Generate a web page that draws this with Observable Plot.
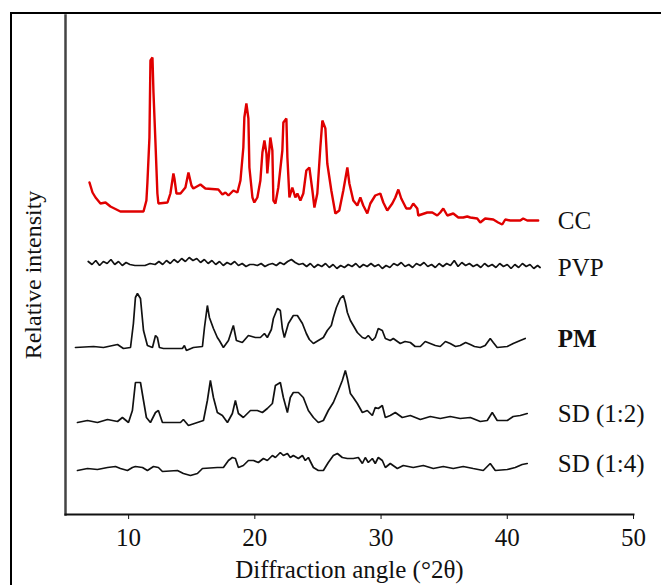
<!DOCTYPE html>
<html>
<head>
<meta charset="utf-8">
<script src="https://cdn.jsdelivr.net/npm/d3@7"></script>
<script src="https://cdn.jsdelivr.net/npm/@observablehq/plot@0.6"></script>
<style>
  html, body { margin: 0; padding: 0; background: #fff; overflow: hidden; }
  #wrap { position: relative; width: 661px; height: 585px; overflow: hidden; }
  #border { position: absolute; left: 10px; top: 12px; width: 800px; height: 800px; border: 2px solid #000; box-sizing: border-box; pointer-events: none; }
  #chart { position: absolute; left: 0; top: 0; }
</style>
</head>
<body>
<div id="wrap"><div id="border"></div><div id="chart"></div></div>
<script>
// Series names and colours
const seriesNames = ["CC", "PVP", "PM", "SD (1:2)", "SD (1:4)"];
const seriesColors = ["#e00000", "#111", "#111", "#111", "#111"];
const boldNames = ["PM"];
const xTicks = [10, 20, 30, 40, 50];

// [diffraction angle (°2θ), relative intensity (stacked, arbitrary units)]
const cc = [[6.90,330],[7.14,320],[7.38,315],[7.77,309],[8.17,310],[8.56,306],[9.35,301],[11.18,301],[11.41,312],[11.49,330],[11.65,375],[11.73,452],[11.89,455],[11.97,420],[12.13,369],[12.28,319],[12.36,309],[13.08,310],[13.31,319],[13.55,339],[13.63,334],[13.79,319],[14.11,319],[14.50,325],[14.74,340],[14.98,327],[15.13,324],[15.69,328],[16.08,324],[17.11,323],[17.43,318],[17.67,320],[17.91,317],[18.30,322],[18.62,320],[18.86,332],[19.09,365],[19.17,395],[19.33,409],[19.49,394],[19.57,345],[19.81,315],[19.96,310],[20.20,315],[20.44,332],[20.60,360],[20.76,372],[20.92,359],[20.99,339],[21.23,375],[21.39,362],[21.47,312],[21.63,309],[21.86,325],[22.18,362],[22.26,390],[22.50,394],[22.58,355],[22.74,315],[22.97,325],[23.21,315],[23.37,319],[23.61,312],[23.84,319],[24.08,342],[24.32,345],[24.56,322],[24.72,305],[24.95,319],[25.19,365],[25.35,392],[25.59,384],[25.74,349],[26.06,322],[26.38,299],[26.69,302],[27.01,322],[27.33,345],[27.49,329],[27.80,312],[28.12,307],[28.36,315],[28.59,307],[28.91,299],[29.15,309],[29.54,317],[29.94,319],[30.18,310],[30.49,302],[30.89,309],[31.13,315],[31.37,323],[31.60,314],[32.00,304],[32.32,304],[32.55,309],[32.87,304],[32.95,297],[33.66,300],[34.06,300],[34.45,297],[34.69,300],[34.93,304],[35.25,297],[35.72,299],[36.12,295],[36.51,295],[36.83,296],[37.07,295],[37.62,294],[37.86,290],[38.25,294],[38.89,293],[39.28,290],[39.60,288],[39.84,293],[40.23,292],[41.03,292],[41.26,294],[41.58,292],[42.45,292]];

const pvp = [[6.8,251],[7.1,248],[7.4,252],[7.7,247],[8.0,251],[8.3,249],[8.6,253],[8.9,248],[9.2,251],[9.5,247],[9.8,250],[10.1,248],[10.5,247],[10.9,247],[11.3,247],[11.7,249],[12.1,248],[12.4,251],[12.7,248],[13.0,252],[13.3,249],[13.6,253],[13.9,250],[14.2,254],[14.5,251],[14.8,255],[15.1,252],[15.4,254],[15.7,250],[16.0,253],[16.3,249],[16.6,252],[16.9,248],[17.2,251],[17.5,247],[17.8,250],[18.1,248],[18.4,251],[18.7,247],[19.0,249],[19.3,246],[19.6,248],[19.9,248],[20.2,247],[20.5,249],[20.8,246],[21.1,248],[21.4,249],[21.7,247],[22.0,250],[22.3,248],[22.6,251],[22.9,253],[23.2,250],[23.5,248],[23.8,249],[24.1,246],[24.4,249],[24.7,245],[25.0,248],[25.3,246],[25.6,249],[25.9,245],[26.2,248],[26.5,244],[26.8,247],[27.1,245],[27.4,248],[27.7,246],[28.0,249],[28.3,245],[28.6,248],[28.9,246],[29.2,249],[29.5,246],[29.8,248],[30.1,244],[30.4,247],[30.7,245],[31.0,249],[31.3,247],[31.6,250],[31.9,246],[32.2,248],[32.5,245],[32.8,249],[33.1,247],[33.4,250],[33.7,246],[34.0,248],[34.3,245],[34.6,249],[34.9,246],[35.2,249],[35.5,247],[35.8,252],[36.1,246],[36.4,250],[36.7,247],[37.0,249],[37.3,246],[37.6,248],[37.9,245],[38.2,249],[38.5,246],[38.8,248],[39.1,245],[39.4,249],[39.7,246],[40.0,248],[40.3,244],[40.6,248],[40.9,245],[41.2,249],[41.5,246],[41.8,248],[42.1,244],[42.4,247],[42.6,245]];

const pm = [[5.79,165],[7.22,166],[8.01,165],[9.12,168],[9.59,164],[10.15,165],[10.38,189],[10.54,215],[10.70,219],[10.94,214],[11.18,182],[11.49,167],[11.89,165],[12.13,177],[12.28,175],[12.44,165],[12.76,164],[14.26,164],[14.42,167],[14.58,162],[15.13,165],[15.85,166],[16.01,185],[16.24,207],[16.40,195],[16.72,184],[17.03,175],[17.19,172],[17.51,165],[17.91,172],[18.22,184],[18.30,187],[18.54,172],[19.01,170],[19.49,177],[20.04,175],[20.44,175],[20.76,179],[20.99,175],[21.31,183],[21.47,194],[21.79,204],[22.02,202],[22.18,184],[22.34,175],[22.66,189],[23.05,197],[23.37,197],[23.77,189],[24.08,179],[24.32,173],[24.64,169],[25.03,172],[25.43,175],[25.74,182],[26.06,187],[26.22,195],[26.46,205],[26.77,214],[27.01,217],[27.17,210],[27.33,200],[27.57,192],[27.80,187],[28.12,180],[28.52,175],[28.75,174],[28.99,177],[29.31,172],[29.54,175],[29.78,184],[30.10,182],[30.34,174],[30.73,172],[30.97,174],[31.52,169],[31.90,171],[32.32,170],[32.70,166],[33.11,166],[33.50,171],[33.90,169],[34.30,167],[34.69,166],[35.10,171],[35.48,169],[35.90,166],[36.27,167],[36.70,170],[37.07,168],[37.40,166],[37.86,165],[38.25,167],[38.65,174],[38.89,170],[39.20,165],[40.00,166],[40.47,169],[41.03,172],[41.42,174]];

const sd12 = [[5.95,90],[6.74,92],[7.53,90],[8.33,93],[9.12,91],[9.51,95],[9.99,90],[10.30,102],[10.54,130],[10.94,130],[11.18,112],[11.41,95],[11.73,90],[12.13,100],[12.36,102],[12.68,90],[14.11,90],[14.34,93],[14.74,87],[15.45,90],[15.93,92],[16.24,112],[16.48,132],[16.72,115],[17.03,100],[17.43,97],[17.83,90],[18.22,99],[18.46,112],[18.70,99],[19.09,95],[19.65,102],[20.20,102],[20.60,100],[20.99,104],[21.39,109],[21.63,127],[22.02,130],[22.26,115],[22.58,100],[22.81,115],[23.05,120],[23.45,120],[23.84,115],[24.24,102],[24.64,95],[25.03,90],[25.43,92],[25.82,102],[26.22,110],[26.62,122],[26.93,132],[27.17,142],[27.33,134],[27.57,119],[27.80,115],[28.12,109],[28.52,100],[28.91,102],[29.31,97],[29.54,105],[29.78,104],[30.10,107],[30.34,95],[30.73,97],[31.13,100],[31.68,95],[32.32,97],[33.11,93],[33.90,96],[34.69,94],[35.48,96],[36.27,94],[37.07,95],[37.86,91],[38.41,92],[38.81,100],[39.20,92],[40.00,92],[40.47,96],[41.03,97],[41.58,99]];

const sd14 = [[5.95,42],[6.74,44],[7.53,43],[8.33,45],[8.96,46],[9.35,44],[9.91,42],[10.30,45],[10.54,46],[11.10,45],[11.49,42],[11.97,46],[12.36,45],[12.68,41],[13.87,42],[14.34,39],[14.90,37],[15.45,39],[15.85,44],[17.03,45],[17.51,45],[17.91,52],[18.22,55],[18.46,54],[18.70,45],[19.09,47],[19.49,52],[19.89,52],[20.28,50],[20.68,54],[20.99,52],[21.39,57],[21.63,55],[22.02,60],[22.26,57],[22.58,59],[22.81,55],[23.05,57],[23.45,54],[23.77,57],[24.00,52],[24.24,55],[24.64,45],[25.03,42],[25.43,42],[25.82,50],[26.22,57],[26.54,59],[26.93,55],[27.33,54],[27.80,54],[28.20,55],[28.52,49],[28.75,55],[28.99,50],[29.31,54],[29.54,49],[29.78,55],[30.10,52],[30.34,45],[30.73,49],[31.29,44],[31.76,47],[32.55,45],[33.35,47],[34.14,44],[34.93,46],[35.72,44],[36.51,46],[37.30,44],[38.10,42],[38.65,49],[39.05,42],[40.00,43],[40.63,45],[41.18,48],[41.58,49]];

const seriesData = [cc, pvp, pm, sd12, sd14];

const toRows = (s, i) => s.map(([angle, intensity]) => ({series: seriesNames[i], angle, intensity}));

const lineMarks = seriesData.map((s, i) =>
  Plot.line(toRows(s, i), {
    x: "angle", y: "intensity",
    stroke: seriesColors[i],
    strokeWidth: i === 0 ? 2.4 : 1.7,
    strokeLinejoin: "miter"
  })
);

const labelRows = seriesData.map((s, i) => ({name: seriesNames[i], intensity: s[s.length - 1][1]}));
const labelOpts = {x: () => 44.0, y: "intensity", text: "name", textAnchor: "start", fontSize: 25, fill: "#111"};

const plot = Plot.plot({
  width: 661,
  height: 585,
  marginLeft: 65,
  marginRight: 28,
  marginTop: 15,
  marginBottom: 71,
  style: {fontFamily: "'Liberation Serif', 'Times New Roman', serif", fontSize: "24px", color: "#111", background: "transparent"},
  x: {domain: [5, 50]},
  y: {domain: [-2, 497], axis: null},
  marks: [
    ...lineMarks,
    Plot.frame({anchor: "left", stroke: "#444", strokeWidth: 2.5}),
    Plot.frame({anchor: "bottom", stroke: "#111", strokeWidth: 2}),
    Plot.axisX({ticks: xTicks, tickSize: 5, tickPadding: 9, fontSize: 25, label: null, stroke: "#111"}),
    Plot.text(labelRows.filter((d) => !boldNames.includes(d.name)), labelOpts),
    Plot.text(labelRows.filter((d) => boldNames.includes(d.name)), {...labelOpts, fontWeight: "bold"}),
    Plot.text(["Diffraction angle (°2θ)"], {frameAnchor: "bottom", textAnchor: "middle", dy: 63, fontSize: 25, fill: "#111"}),
    Plot.text(["Relative intensity"], {frameAnchor: "left", textAnchor: "middle", rotate: -90, dx: -32, dy: 10, fontSize: 24, fill: "#111"})
  ]
});
document.getElementById("chart").appendChild(plot);
</script>
</body>
</html>
